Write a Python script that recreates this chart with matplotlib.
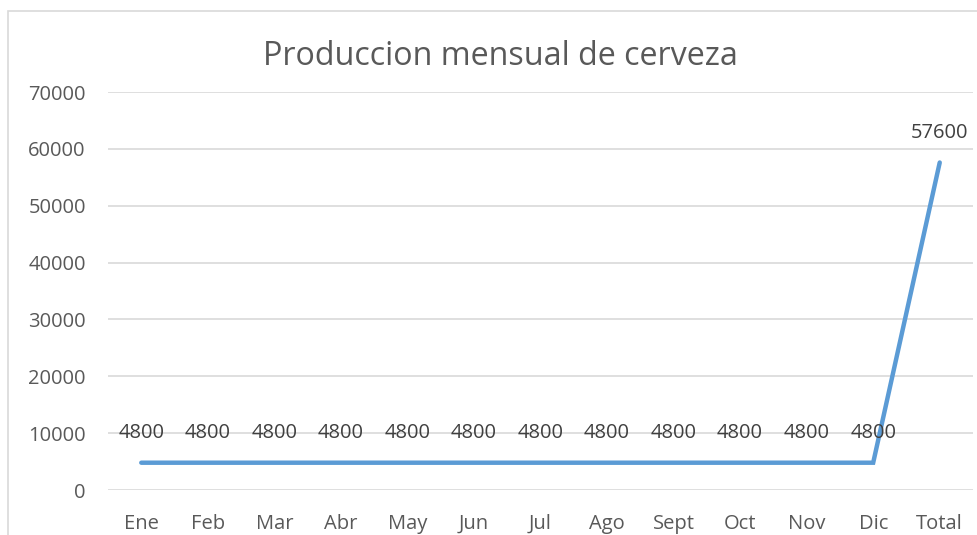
import matplotlib
matplotlib.use("Agg")
import matplotlib.pyplot as plt
from matplotlib.patches import Rectangle

months = ["Ene", "Feb", "Mar", "Abr", "May", "Jun", "Jul", "Ago", "Sept",
          "Oct", "Nov", "Dic", "Total"]
production = [4800, 4800, 4800, 4800, 4800, 4800, 4800, 4800, 4800,
              4800, 4800, 4800, 57600]
y_ticks = [0, 10000, 20000, 30000, 40000, 50000, 60000, 70000]

plt.rcParams["font.family"] = ["Open Sans", "DejaVu Sans"]
text_color = "#595959"
grid_color = "#d9d9d9"

W, H = 977, 535
fig = plt.figure(figsize=(W / 100, H / 100), dpi=100, facecolor="white")

# outer chart frame (top and left edges visible, the rest runs off the canvas)
fig.patches.append(Rectangle((8 / W, -0.05), 1.1, (H - 11) / H + 0.05,
                             transform=fig.transFigure, fill=False,
                             edgecolor=grid_color, linewidth=1.2))

ax = fig.add_axes([108 / W, (H - 490) / H, (973 - 108) / W, (490 - 92) / H])
x = list(range(len(months)))
ax.plot(x, production, color="#5b9bd5", linewidth=3.2,
        solid_capstyle="round", solid_joinstyle="miter", zorder=3)

for xi, v in zip(x, production):
    ax.annotate(f"{v}", (xi, v), xytext=(0, 21.5), textcoords="offset points",
                ha="center", va="center", fontsize=14.5, color="#404040",
                zorder=4)

ax.set_xlim(-0.5, len(months) - 0.5)
ax.set_ylim(0, 70000)
ax.set_yticks(y_ticks)
ax.set_yticklabels([str(t) for t in y_ticks])
ax.set_xticks(x)
ax.set_xticklabels(months)
ax.tick_params(axis="both", length=0, labelsize=14.5, labelcolor=text_color)
ax.tick_params(axis="y", pad=16)
ax.tick_params(axis="x", pad=17)
ax.grid(axis="y", color=grid_color, linewidth=1.2)
ax.set_axisbelow(True)
for s in ax.spines.values():
    s.set_visible(False)

fig.text(500 / W, (H - 57) / H, "Produccion mensual de cerveza",
         ha="center", va="center", fontsize=23.2, color=text_color)

fig.savefig("out.png", dpi=100, facecolor="white")
